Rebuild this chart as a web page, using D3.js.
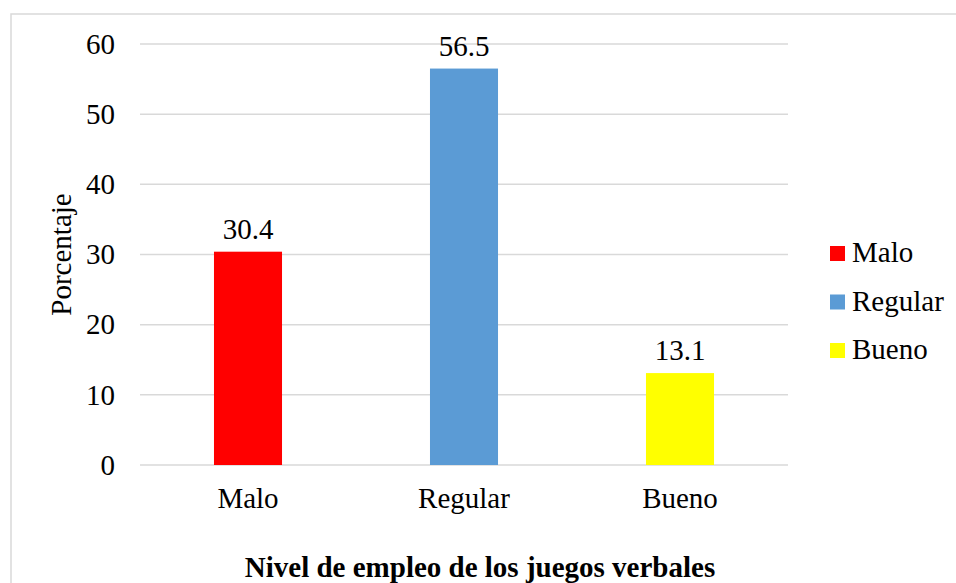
<!DOCTYPE html>
<html>
<head>
<meta charset="utf-8">
<script src="https://cdn.jsdelivr.net/npm/d3@7"></script>
<style>
  body { margin: 0; background: #fff; }
  svg text { font-family: "Liberation Serif", "Times New Roman", serif; fill: #000; }
</style>
</head>
<body>
<div id="chart"></div>
<script>

const categories = ["Malo", "Regular", "Bueno"];
const values = [30.4, 56.5, 13.1];
const colors = ["#FF0000", "#5B9BD5", "#FFFF00"];
const yTicks = [0, 10, 20, 30, 40, 50, 60];

function drawChart() {

    const dimensions = {
        width: 956,
        height: 583,
        plot: { left: 140, right: 788, top: 44, bottom: 465 },
        fontSize: 29
    };

    const svg = d3.select("#chart")
        .append("svg")
        .attr("width", dimensions.width)
        .attr("height", dimensions.height)
        .attr("font-family", "Liberation Serif");

    // chart frame
    svg.append("rect")
        .attr("x", 11)
        .attr("y", 14)
        .attr("width", 960)
        .attr("height", 600)
        .attr("fill", "none")
        .attr("stroke", "#d9d9d9")
        .attr("stroke-width", 1.5);

    const xScale = d3.scaleBand()
        .domain(categories)
        .range([dimensions.plot.left, dimensions.plot.right])
        .paddingInner(0.685)
        .paddingOuter(0.3425);

    const yScale = d3.scaleLinear()
        .domain([0, 60])
        .range([dimensions.plot.bottom, dimensions.plot.top]);

    // gridlines
    svg.append("g")
        .selectAll("line")
        .data(yTicks)
        .join("line")
        .attr("x1", dimensions.plot.left)
        .attr("x2", dimensions.plot.right)
        .attr("y1", d => yScale(d))
        .attr("y2", d => yScale(d))
        .attr("stroke", "#d9d9d9")
        .attr("stroke-width", 1.5);

    // y axis labels
    const yAxis = d3.axisLeft(yScale)
        .tickValues(yTicks)
        .tickSize(0)
        .tickPadding(25);

    const yAxisGroup = svg.append("g")
        .attr("transform", `translate(${dimensions.plot.left}, 0)`)
        .call(yAxis)
        .attr("font-size", dimensions.fontSize)
        .attr("font-family", "Liberation Serif");
    yAxisGroup.select(".domain").remove();

    // x axis labels
    const xAxis = d3.axisBottom(xScale)
        .tickSize(0)
        .tickPadding(22);

    const xAxisGroup = svg.append("g")
        .attr("transform", `translate(0, ${dimensions.plot.bottom})`)
        .call(xAxis)
        .attr("font-size", dimensions.fontSize)
        .attr("font-family", "Liberation Serif");
    xAxisGroup.select(".domain").remove();

    // bars
    svg.append("g")
        .selectAll("rect")
        .data(values)
        .join("rect")
        .attr("x", (d, i) => xScale(categories[i]))
        .attr("width", xScale.bandwidth())
        .attr("y", d => yScale(d))
        .attr("height", d => yScale(0) - yScale(d))
        .attr("fill", (d, i) => colors[i]);

    // value labels
    svg.append("g")
        .selectAll("text")
        .data(values)
        .join("text")
        .attr("x", (d, i) => xScale(categories[i]) + xScale.bandwidth() / 2)
        .attr("y", d => yScale(d) - 13)
        .attr("text-anchor", "middle")
        .attr("font-size", dimensions.fontSize)
        .text(d => d.toFixed(1));

    // axis titles
    svg.append("text")
        .attr("transform", `translate(71, ${(dimensions.plot.top + dimensions.plot.bottom) / 2}) rotate(-90)`)
        .attr("text-anchor", "middle")
        .attr("font-size", dimensions.fontSize)
        .text("Porcentaje");

    svg.append("text")
        .attr("x", 480)
        .attr("y", 577)
        .attr("text-anchor", "middle")
        .attr("font-size", dimensions.fontSize)
        .attr("font-weight", "bold")
        .text("Nivel de empleo de los juegos verbales");

    // legend
    const legend = svg.append("g")
        .attr("transform", "translate(830, 246)")
        .selectAll("g")
        .data(categories)
        .join("g")
        .attr("transform", (d, i) => `translate(0, ${i * 48.5})`);

    legend.append("rect")
        .attr("width", 15)
        .attr("height", 15)
        .attr("fill", (d, i) => colors[i]);

    legend.append("text")
        .attr("x", 22)
        .attr("y", 16)
        .attr("font-size", dimensions.fontSize)
        .text(d => d);
}

drawChart();
</script>
</body>
</html>
